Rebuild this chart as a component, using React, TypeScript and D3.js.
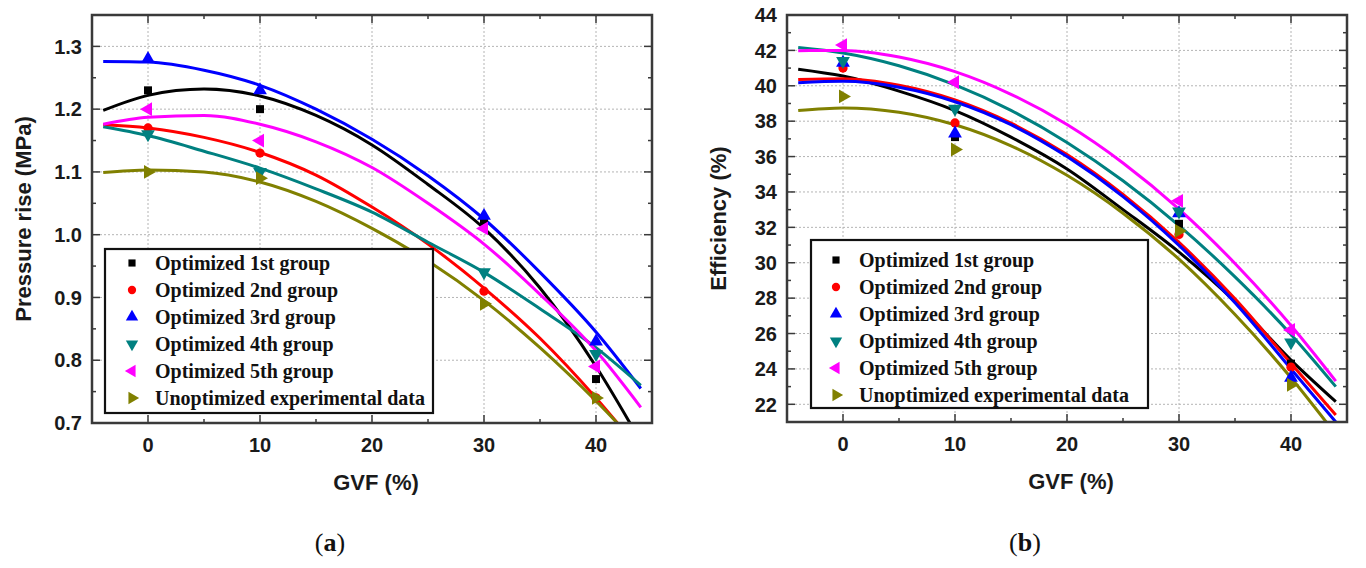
import * as d3 from "d3"

// GVF (%) where the groups were measured, and where the fitted curves were read
const gvfPoints = [0, 10, 30, 40]
const fitGvf = [-4, 0, 5, 10, 15, 20, 25, 30, 35, 40, 44]
const gvfTicks = [0, 10, 20, 30, 40]
const gvfMinor = [5, 15, 25, 35]

const groupNames = [
  "Optimized 1st group",
  "Optimized 2nd group",
  "Optimized 3rd group",
  "Optimized 4th group",
  "Optimized 5th group",
  "Unoptimized experimental data",
]

// (a) pressure rise, MPa
const pressure1st = [1.23, 1.2, 1.02, 0.77]
const pressure2nd = [1.17, 1.13, 0.91, 0.74]
const pressure3rd = [1.28, 1.23, 1.03, 0.83]
const pressure4th = [1.16, 1.1, 0.94, 0.81]
const pressure5th = [1.2, 1.15, 1.01, 0.79]
const pressureUnopt = [1.1, 1.09, 0.89, 0.74]

const pressureFit1st = [1.198, 1.222, 1.232, 1.221, 1.19, 1.143, 1.08, 1.01, 0.915, 0.79, 0.67]
const pressureFit2nd = [1.175, 1.17, 1.155, 1.131, 1.095, 1.044, 0.985, 0.915, 0.835, 0.74, 0.655]
const pressureFit3rd = [1.276, 1.275, 1.262, 1.238, 1.2, 1.152, 1.094, 1.025, 0.94, 0.845, 0.755]
const pressureFit4th = [1.172, 1.158, 1.133, 1.106, 1.073, 1.036, 0.988, 0.94, 0.882, 0.82, 0.76]
const pressureFit5th = [1.176, 1.187, 1.19, 1.176, 1.148, 1.107, 1.05, 0.985, 0.905, 0.815, 0.725]
const pressureFitUnopt = [1.099, 1.103, 1.1, 1.084, 1.053, 1.01, 0.958, 0.895, 0.82, 0.735, 0.66]

const pressureTicks = [0.7, 0.8, 0.9, 1.0, 1.1, 1.2, 1.3]
const pressureMinor = [0.75, 0.85, 0.95, 1.05, 1.15, 1.25]

// (b) efficiency, %
const efficiency1st = [41.1, 37.1, 32.2, 24.3]
const efficiency2nd = [41.0, 37.9, 31.6, 24.1]
const efficiency3rd = [41.3, 37.3, 32.8, 23.5]
const efficiency4th = [41.4, 38.7, 32.9, 25.5]
const efficiency5th = [42.3, 40.2, 33.5, 26.2]
const efficiencyUnopt = [39.4, 36.4, 31.8, 23.1]

const efficiencyFit1st = [40.94, 40.55, 39.7, 38.6, 37.1, 35.3, 33.0, 30.6, 27.8, 24.5, 22.15]
const efficiencyFit2nd = [40.35, 40.4, 40.03, 39.2, 37.89, 36.11, 33.86, 31.15, 27.96, 24.3, 21.4]
const efficiencyFit3rd = [40.17, 40.25, 39.92, 39.1, 37.8, 36.0, 33.74, 30.98, 27.74, 24.0, 21.0]
const efficiencyFit4th = [42.16, 41.85, 41.13, 40.05, 38.61, 36.8, 34.63, 32.1, 29.2, 25.95, 23.0]
const efficiencyFit5th = [41.98, 42.0, 41.63, 40.8, 39.52, 37.81, 35.64, 33.03, 29.96, 26.45, 23.31]
const efficiencyFitUnopt = [38.6, 38.75, 38.51, 37.8, 36.61, 34.94, 32.8, 30.2, 27.07, 23.5, 20.3]

const efficiencyTicks = [22, 24, 26, 28, 30, 32, 34, 36, 38, 40, 42, 44]
const efficiencyMinor = [23, 25, 27, 29, 31, 33, 35, 37, 39, 41, 43]

const groupColors = ["#000000", "#ff0000", "#0000ff", "#008080", "#ff00ff", "#808000"]
const markerKinds = ["square", "circle", "up", "down", "left", "right"]

const sans = "'Liberation Sans', Arial, sans-serif"
const serif = "'Liberation Serif', 'Times New Roman', serif"

function Marker({ kind, x, y, color, size = 75 }: { kind: string; x: number; y: number; color: string; size?: number }) {
  let type: d3.SymbolType = d3.symbolTriangle
  let rot = 0
  if (kind === "square") type = d3.symbolSquare
  else if (kind === "circle") type = d3.symbolCircle
  else if (kind === "down") rot = 180
  else if (kind === "left") rot = -90
  else if (kind === "right") rot = 90
  const s = kind === "square" ? size * 0.85 : kind === "circle" ? size * 0.9 : size * 1.1
  const d = d3.symbol().type(type).size(s)()
  return <path d={d ?? ""} fill={color} transform={`translate(${x},${y}) rotate(${rot})`} />
}

interface PanelProps {
  id: string
  xRange: [number, number]
  yRange: [number, number]
  yDomain: [number, number]
  yTicks: number[]
  yMinor: number[]
  yFormat: (v: number) => string
  yTitle: string
  points: number[][]
  fits: number[][]
  legend: { x: number; y: number; w: number; h: number; row0: number; symX: number; textX: number }
  label: string
}

function Panel(p: PanelProps) {
  const x = d3.scaleLinear([-5, 45], p.xRange)
  const y = d3.scaleLinear(p.yDomain, p.yRange)
  const [left, right] = p.xRange
  const [bottom, top] = p.yRange
  const line = d3.line<number>()
    .x((_, i) => x(fitGvf[i]))
    .y(d => y(d))
    .curve(d3.curveMonotoneX)
  const axisColor = "#3a3a3a"
  const cx = (left + right) / 2

  return (
    <g>
      <defs>
        <clipPath id={`clip-${p.id}`}>
          <rect x={left} y={top} width={right - left} height={bottom - top} />
        </clipPath>
      </defs>

      {/* dotted grid */}
      {gvfTicks.map(t => (
        <line key={`gx${t}`} x1={x(t)} x2={x(t)} y1={top} y2={bottom} stroke="#b4b4b4" strokeWidth={1} strokeDasharray="2,2" />
      ))}
      {p.yTicks.filter(t => y(t) < bottom - 2 && y(t) > top + 2).map(t => (
        <line key={`gy${t}`} x1={left} x2={right} y1={y(t)} y2={y(t)} stroke="#b4b4b4" strokeWidth={1} strokeDasharray="2,2" />
      ))}

      {/* fitted curves */}
      <g clipPath={`url(#clip-${p.id})`}>
        {p.fits.map((f, i) => (
          <path key={`f${i}`} d={line(f) ?? ""} fill="none" stroke={groupColors[i]} strokeWidth={3} />
        ))}
      </g>

      {/* measured points */}
      {p.points.map((vals, i) =>
        vals.map((v, j) => (
          <Marker key={`m${i}-${j}`} kind={markerKinds[i]} x={x(gvfPoints[j])} y={y(v)} color={groupColors[i]} />
        ))
      )}

      {/* frame and inward ticks */}
      <rect x={left} y={top} width={right - left} height={bottom - top} fill="none" stroke={axisColor} strokeWidth={2.5} />
      {gvfTicks.map(t => (
        <g key={`tx${t}`}>
          <line x1={x(t)} x2={x(t)} y1={bottom} y2={bottom - 8} stroke={axisColor} strokeWidth={1.5} />
          <line x1={x(t)} x2={x(t)} y1={top} y2={top + 8} stroke={axisColor} strokeWidth={1.5} />
          <text x={x(t)} y={bottom + 29} textAnchor="middle" fontFamily={sans} fontWeight="bold" fontSize={20} fill="#1a1a1a">{t}</text>
        </g>
      ))}
      {gvfMinor.map(t => (
        <g key={`mx${t}`}>
          <line x1={x(t)} x2={x(t)} y1={bottom} y2={bottom - 4} stroke={axisColor} strokeWidth={1.5} />
          <line x1={x(t)} x2={x(t)} y1={top} y2={top + 4} stroke={axisColor} strokeWidth={1.5} />
        </g>
      ))}
      {p.yTicks.map(t => (
        <g key={`ty${t}`}>
          <line x1={left} x2={left + 8} y1={y(t)} y2={y(t)} stroke={axisColor} strokeWidth={1.5} />
          <line x1={right} x2={right - 8} y1={y(t)} y2={y(t)} stroke={axisColor} strokeWidth={1.5} />
          <text x={left - 10} y={y(t)} dy="0.36em" textAnchor="end" fontFamily={sans} fontWeight="bold" fontSize={20} fill="#1a1a1a">{p.yFormat(t)}</text>
        </g>
      ))}
      {p.yMinor.map(t => (
        <g key={`my${t}`}>
          <line x1={left} x2={left + 4} y1={y(t)} y2={y(t)} stroke={axisColor} strokeWidth={1.5} />
          <line x1={right} x2={right - 4} y1={y(t)} y2={y(t)} stroke={axisColor} strokeWidth={1.5} />
        </g>
      ))}

      {/* axis titles */}
      <text x={cx + 4} y={bottom + 67} textAnchor="middle" fontFamily={sans} fontWeight="bold" fontSize={22} fill="#1a1a1a">GVF (%)</text>
      <text transform={`translate(${left - 69},${(top + bottom) / 2}) rotate(-90)`} dy="0.36em" textAnchor="middle" fontFamily={sans} fontWeight="bold" fontSize={22} fill="#1a1a1a">{p.yTitle}</text>

      {/* legend */}
      <rect x={p.legend.x} y={p.legend.y} width={p.legend.w} height={p.legend.h} fill="#fff" stroke="#111" strokeWidth={2.2} />
      {groupNames.map((name, i) => {
        const ry = p.legend.row0 + i * 27
        return (
          <g key={`l${i}`}>
            <Marker kind={markerKinds[i]} x={p.legend.x + p.legend.symX} y={ry} color={groupColors[i]} size={60} />
            <text x={p.legend.x + p.legend.textX} y={ry} dy="0.34em" fontFamily={serif} fontWeight="bold" fontSize={20} fill="#111">{name}</text>
          </g>
        )
      })}

      {/* panel label */}
      <text x={cx - 42} y={551} textAnchor="middle" fontFamily={serif} fontSize={26} fill="#111">
        (<tspan fontWeight="bold">{p.label}</tspan>)
      </text>
    </g>
  )
}

export default function App() {
  return (
    <svg width={1366} height={568} style={{ position: "absolute", left: 0, top: 0, display: "block", background: "#fff" }}>
      <rect width={1366} height={568} fill="#fff" />
      <Panel
        id="a"
        xRange={[92, 652]}
        yRange={[423, 15]}
        yDomain={[0.7, 1.35]}
        yTicks={pressureTicks}
        yMinor={pressureMinor}
        yFormat={d3.format(".1f")}
        yTitle="Pressure rise (MPa)"
        points={[pressure1st, pressure2nd, pressure3rd, pressure4th, pressure5th, pressureUnopt]}
        fits={[pressureFit1st, pressureFit2nd, pressureFit3rd, pressureFit4th, pressureFit5th, pressureFitUnopt]}
        legend={{ x: 105, y: 249, w: 328, h: 164, row0: 263, symX: 27, textX: 50 }}
        label="a"
      />
      <Panel
        id="b"
        xRange={[787, 1347]}
        yRange={[422, 15]}
        yDomain={[21, 44]}
        yTicks={efficiencyTicks}
        yMinor={efficiencyMinor}
        yFormat={d3.format("d")}
        yTitle="Efficiency (%)"
        points={[efficiency1st, efficiency2nd, efficiency3rd, efficiency4th, efficiency5th, efficiencyUnopt]}
        fits={[efficiencyFit1st, efficiencyFit2nd, efficiencyFit3rd, efficiencyFit4th, efficiencyFit5th, efficiencyFitUnopt]}
        legend={{ x: 811, y: 240, w: 337, h: 168, row0: 260, symX: 25, textX: 48 }}
        label="b"
      />
    </svg>
  )
}
